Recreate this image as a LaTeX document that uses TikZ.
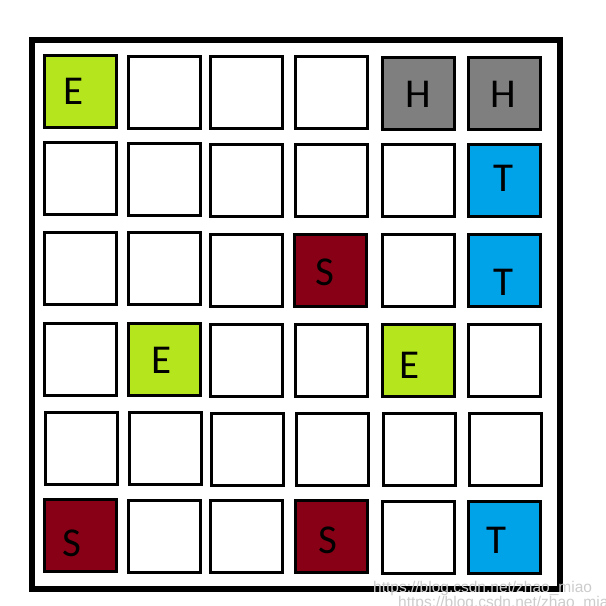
\documentclass[tikz,border=0pt]{standalone}
\usepackage{fontspec}
\setmainfont{Carlito}
\newfontfamily\wmfont{Liberation Sans}
\definecolor{lime}{HTML}{B5E61D}
\definecolor{greyh}{HTML}{7F7F7F}
\definecolor{bluet}{HTML}{00A2E8}
\definecolor{reds}{HTML}{880015}
\begin{document}
\begin{tikzpicture}[x=1pt,y=-1pt,
  cell/.style={draw=black,line width=3pt,minimum width=72pt,minimum height=72pt,inner sep=0pt,fill=white},
  ecell/.style={cell,fill=lime},
  hcell/.style={cell,fill=greyh},
  tcell/.style={cell,fill=bluet},
  scell/.style={cell,fill=reds},
  letter/.style={inner sep=0pt,font=\fontsize{41}{41}\selectfont,text=black},
  wmark/.style={inner sep=0pt,anchor=west,text=black!20,font=\fontsize{15.5}{15.5}\selectfont\wmfont}]
\useasboundingbox (0,0) rectangle (606,606);
\node[draw=black,line width=6pt,minimum width=528pt,minimum height=549pt,inner sep=0pt] (frame) at (296,314.5) {};
% row 1
\node[ecell] (c11) at (80.5,91.5) {};
\node[cell]  (c12) at (164.5,92) {};
\node[cell]  (c13) at (246.5,92.5) {};
\node[cell]  (c14) at (331.5,92.5) {};
\node[hcell] (c15) at (418.5,93) {};
\node[hcell] (c16) at (504.5,93) {};
% row 2
\node[cell]  (c21) at (80.5,178.5) {};
\node[cell]  (c22) at (164.5,179) {};
\node[cell]  (c23) at (246.5,180) {};
\node[cell]  (c24) at (331.5,180) {};
\node[cell]  (c25) at (418.5,180) {};
\node[tcell] (c26) at (504.5,180) {};
% row 3
\node[cell]  (c31) at (80,268) {};
\node[cell]  (c32) at (164,268.5) {};
\node[cell]  (c33) at (246,270) {};
\node[scell] (c34) at (330.5,270) {};
\node[cell]  (c35) at (418.5,270) {};
\node[tcell] (c36) at (504.5,270) {};
% row 4
\node[cell]  (c41) at (80,359) {};
\node[ecell] (c42) at (164,359.5) {};
\node[cell]  (c43) at (246,360) {};
\node[cell]  (c44) at (331,360) {};
\node[ecell] (c45) at (418,360) {};
\node[cell]  (c46) at (504,360.5) {};
% row 5
\node[cell]  (c51) at (81.5,448) {};
\node[cell]  (c52) at (165,448.5) {};
\node[cell]  (c53) at (247,449) {};
\node[cell]  (c54) at (332,449) {};
\node[cell]  (c55) at (419,449) {};
\node[cell]  (c56) at (505,449) {};
% row 6
\node[scell] (c61) at (80.5,535.5) {};
\node[cell]  (c62) at (164.5,536) {};
\node[cell]  (c63) at (246.5,536.5) {};
\node[scell] (c64) at (331,536.5) {};
\node[cell]  (c65) at (418.5,537) {};
\node[tcell] (c66) at (504.5,537) {};
% letters
\node[letter] (l11) at (74,91) {E};
\node[letter] (l15) at (418,94) {H};
\node[letter] (l16) at (503,94) {H};
\node[letter] (l26) at (503,178) {T};
\node[letter] (l34) at (324.5,272) {S};
\node[letter] (l36) at (503,282) {T};
\node[letter] (l42) at (162,360) {E};
\node[letter] (l45) at (410,365) {E};
\node[letter] (l61) at (72,543) {S};
\node[letter] (l64) at (328,540) {S};
\node[letter] (l66) at (496,540) {T};
% watermark
\node[wmark] (wm1) at (373,588) {https://blog.csdn.net/zhao\_miao};
\node[wmark] (wm2) at (398,603) {https://blog.csdn.net/zhao\_miao};
\end{tikzpicture}
\end{document}
